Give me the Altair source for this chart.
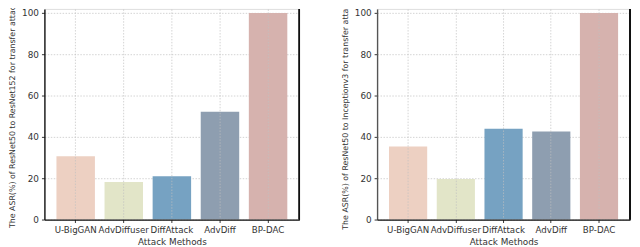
import altair as alt
import pandas as pd

methods = ["U-BigGAN", "AdvDiffuser", "DiffAttack", "AdvDiff", "BP-DAC"]
asr_resnet152 = [30.6, 18.2, 21.0, 52.2, 100.0]
asr_inceptionv3 = [35.4, 19.6, 44.0, 42.6, 100.0]
bar_colors = ["#EDD0C2", "#E2E5C8", "#76A2C2", "#8E9EB0", "#D6B2AE"]
y_ticks = [0, 20, 40, 60, 80, 100]

FONT = "DejaVu Sans"


def panel(values, ytitle, w, spine_color):
    df = pd.DataFrame({"method": methods, "asr": values})
    base = alt.Chart(df)
    bars = base.mark_bar().encode(
        x=alt.X(
            "method:N",
            sort=methods,
            scale=alt.Scale(paddingInner=0.2, paddingOuter=0.25),
            axis=alt.Axis(
                title="Attack Methods",
                labelAngle=0,
                bandPosition=0.5,
                grid=True,
                gridColor="#c0c0c0",
                gridDash=[1.5, 1.5],
                gridOpacity=0.7,
                zindex=1,
                domainColor="#111111",
                domainWidth=1.2,
                tickColor="#333333",
                tickSize=3,
                labelPadding=3,
                titlePadding=4,
                labelFont=FONT,
                titleFont=FONT,
                labelFontSize=8.8,
                titleFontSize=9,
                titleFontWeight="normal",
                labelColor="#333333",
                titleColor="#333333",
            ),
        ),
        y=alt.Y(
            "asr:Q",
            scale=alt.Scale(domain=[0, 102], nice=False),
            axis=alt.Axis(
                title=ytitle,
                values=y_ticks,
                grid=True,
                gridColor="#c0c0c0",
                gridDash=[1.5, 1.5],
                gridOpacity=0.7,
                domainColor=spine_color,
                domainWidth=1.4,
                tickColor="#333333",
                tickSize=3,
                labelPadding=3,
                titlePadding=5,
                labelFont=FONT,
                titleFont=FONT,
                labelFontSize=9,
                titleFontSize=8,
                titleFontWeight="normal",
                labelColor="#333333",
                titleColor="#333333",
            ),
        ),
        color=alt.Color(
            "method:N",
            sort=methods,
            scale=alt.Scale(domain=methods, range=bar_colors),
            legend=None,
        ),
    )
    right_spine = base.mark_rule(color="#111111", strokeWidth=1.2).encode(
        x=alt.value(w), y=alt.value(0), y2=alt.value(214)
    )
    return alt.layer(bars, right_spine).properties(width=w, height=214)


left = panel(asr_resnet152, "The ASR(%) of ResNet50 to ResNet152 for transfer attack", 259, "#111111")
right = panel(asr_inceptionv3, "The ASR(%) of ResNet50 to Inceptionv3 for transfer attack", 257, "#555555")

chart = (
    alt.hconcat(left, right, spacing=40)
    .properties(padding={"left": 0, "top": -12, "right": 0, "bottom": 0})
    .configure_view(stroke="#e0e0e0", strokeWidth=1)
    .configure(background="white")
)

chart.save("out.html", embed_options={"renderer": "svg", "actions": False})
